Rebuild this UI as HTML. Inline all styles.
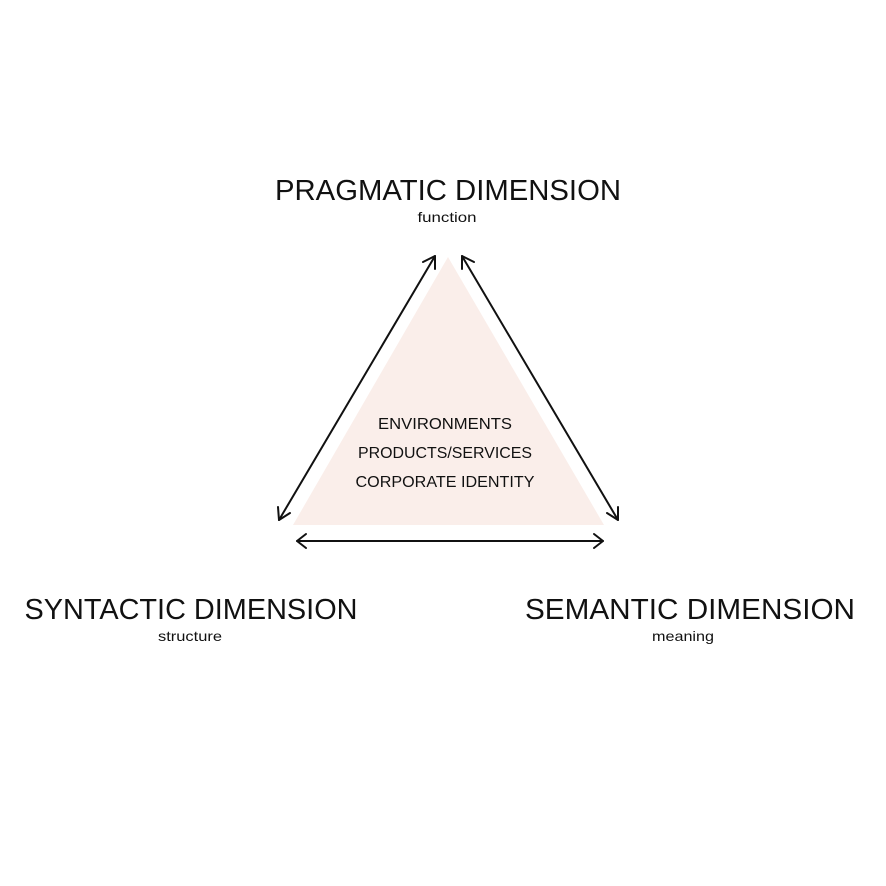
<!DOCTYPE html>
<html><head><meta charset="utf-8"><style>body{margin:0;background:#fff}svg{display:block}</style></head>
<body>
<svg width="886" height="886" viewBox="0 0 886 886" xmlns="http://www.w3.org/2000/svg" font-family="Liberation Sans, DejaVu Sans, sans-serif" fill="#111">
<rect width="886" height="886" fill="#fff"/>
<polygon points="448,257 293,525 604,525" fill="#faeeea"/>
<g stroke="#111" stroke-width="2" fill="none" stroke-linecap="round" stroke-linejoin="round">
<line x1="435" y1="256" x2="279" y2="520"/>
<polyline points="423,262 435,256 435,269"/>
<polyline points="278,507 279,520 290,513"/>
<line x1="462" y1="256" x2="618" y2="520"/>
<polyline points="462,269 462,256 474,262"/>
<polyline points="607,513 618,520 618,507"/>
<line x1="297" y1="541" x2="603" y2="541"/>
<polyline points="306,534 297,541 306,548"/>
<polyline points="594,534 603,541 594,548"/>
</g>
<g text-anchor="middle">
<text x="448" y="200" font-size="29" textLength="346" lengthAdjust="spacingAndGlyphs">PRAGMATIC DIMENSION</text>
<text x="447" y="222" font-size="14" textLength="59" lengthAdjust="spacingAndGlyphs">function</text>
<text x="191" y="619" font-size="29" textLength="333" lengthAdjust="spacingAndGlyphs">SYNTACTIC DIMENSION</text>
<text x="190" y="641" font-size="14" textLength="64" lengthAdjust="spacingAndGlyphs">structure</text>
<text x="690" y="619" font-size="29" textLength="330" lengthAdjust="spacingAndGlyphs">SEMANTIC DIMENSION</text>
<text x="683" y="641" font-size="14" textLength="62" lengthAdjust="spacingAndGlyphs">meaning</text>
<text x="445" y="429" font-size="16" textLength="134" lengthAdjust="spacingAndGlyphs">ENVIRONMENTS</text>
<text x="445" y="458" font-size="16" textLength="174" lengthAdjust="spacingAndGlyphs">PRODUCTS/SERVICES</text>
<text x="445" y="487" font-size="16" textLength="179" lengthAdjust="spacingAndGlyphs">CORPORATE IDENTITY</text>
</g>
</svg>
</body></html>
